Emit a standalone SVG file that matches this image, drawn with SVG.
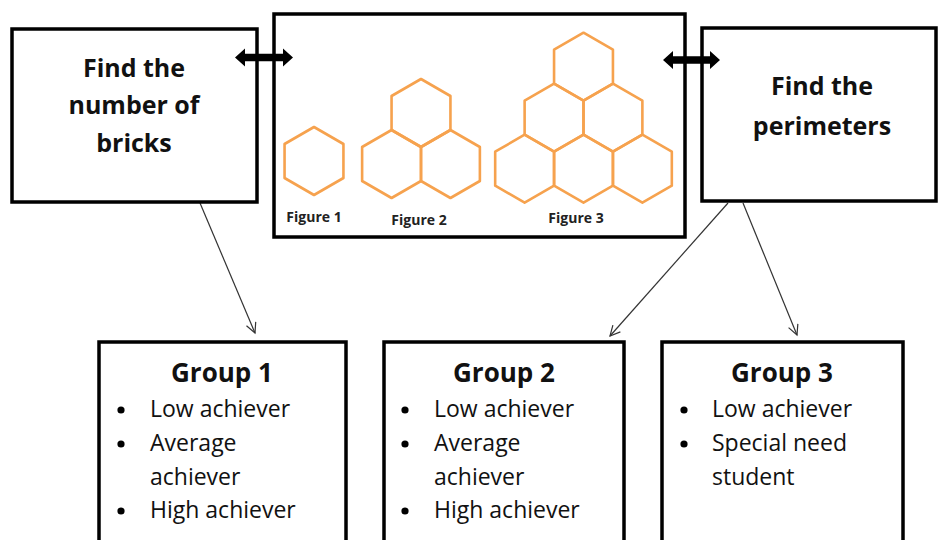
<svg xmlns="http://www.w3.org/2000/svg" width="938" height="540" viewBox="0 0 938 540">
<style>
.box{fill:#fff;stroke:#000;stroke-width:3.5}
.hb{font-family:"Open Sans","Liberation Sans",sans-serif;font-weight:bold;font-size:25px;fill:#111;text-anchor:middle}
.gt{font-family:"Open Sans","Liberation Sans",sans-serif;font-weight:bold;font-size:26px;fill:#111;text-anchor:middle}
.it{font-family:"Open Sans","Liberation Sans",sans-serif;font-size:23px;fill:#111}
.fig{font-family:"Open Sans","Liberation Sans",sans-serif;font-weight:bold;font-size:14px;fill:#222;text-anchor:middle}
.hex{fill:none;stroke:#F6A24E;stroke-width:2.6;stroke-linejoin:round}
.conn{stroke:#333;stroke-width:1.2;fill:none}
.dbl{fill:#000}
</style>
<defs>
<path id="hx" d="M0,-34 L29.44,-17 L29.44,17 L0,34 L-29.44,17 L-29.44,-17 Z"/>
<marker id="ah" markerUnits="userSpaceOnUse" markerWidth="14" markerHeight="14" refX="11" refY="6" orient="auto">
<path d="M1,1 L11,6 L1,11" fill="none" stroke="#333" stroke-width="1.2"/>
</marker>
</defs>
<rect width="938" height="540" fill="#fff"/>

<g id="connectors">
<line class="conn" x1="200" y1="203" x2="255" y2="333" marker-end="url(#ah)"/>
<line class="conn" x1="728" y1="203" x2="610" y2="336" marker-end="url(#ah)"/>
<line class="conn" x1="743" y1="203" x2="797" y2="335" marker-end="url(#ah)"/>
</g>

<g id="node-bricks">
<rect class="box" x="12" y="29" width="245" height="173"/>
<text class="hb" x="134" y="77">Find the</text>
<text class="hb" x="134" y="114">number of</text>
<text class="hb" x="134" y="152">bricks</text>
</g>

<g id="node-figures">
<rect class="box" x="274" y="14" width="411" height="223"/>
<g id="figure1">
<use href="#hx" class="hex" x="314" y="161"/>
<text class="fig" x="314" y="222">Figure 1</text>
</g>
<g id="figure2">
<use href="#hx" class="hex" x="421" y="113"/>
<use href="#hx" class="hex" x="391.56" y="164"/>
<use href="#hx" class="hex" x="450.44" y="164"/>
<text class="fig" x="419" y="225">Figure 2</text>
</g>
<g id="figure3">
<use href="#hx" class="hex" x="583.5" y="66.7"/>
<use href="#hx" class="hex" x="554.06" y="117.7"/>
<use href="#hx" class="hex" x="612.94" y="117.7"/>
<use href="#hx" class="hex" x="524.62" y="168.7"/>
<use href="#hx" class="hex" x="583.5" y="168.7"/>
<use href="#hx" class="hex" x="642.38" y="168.7"/>
<text class="fig" x="576" y="223">Figure 3</text>
</g>
</g>

<g id="node-perimeters">
<rect class="box" x="702" y="28" width="234" height="173"/>
<text class="hb" x="822" y="95">Find the</text>
<text class="hb" x="822" y="135">perimeters</text>
</g>

<g id="double-arrows">
<polygon class="dbl" points="235,57.5 245,48.5 245,53.7 283,53.7 283,48.5 293,57.5 283,66.5 283,61.3 245,61.3 245,66.5"/>
<polygon class="dbl" points="663,60 673,51 673,56.2 710,56.2 710,51 720,60 710,69 710,63.8 673,63.8 673,69"/>
</g>

<g id="node-group1">
<rect class="box" x="99" y="342" width="247" height="210"/>
<text class="gt" x="222" y="382">Group 1</text>
<circle cx="121" cy="410" r="3.6" fill="#000"/>
<circle cx="121" cy="444" r="3.6" fill="#000"/>
<circle cx="121" cy="511" r="3.6" fill="#000"/>
<text class="it" x="150" y="417">Low achiever</text>
<text class="it" x="150" y="451">Average</text>
<text class="it" x="150" y="485">achiever</text>
<text class="it" x="150" y="518">High achiever</text>
</g>

<g id="node-group2">
<rect class="box" x="384" y="342" width="240" height="210"/>
<text class="gt" x="504" y="382">Group 2</text>
<circle cx="405" cy="410" r="3.6" fill="#000"/>
<circle cx="405" cy="444" r="3.6" fill="#000"/>
<circle cx="405" cy="511" r="3.6" fill="#000"/>
<text class="it" x="434" y="417">Low achiever</text>
<text class="it" x="434" y="451">Average</text>
<text class="it" x="434" y="485">achiever</text>
<text class="it" x="434" y="518">High achiever</text>
</g>

<g id="node-group3">
<rect class="box" x="662" y="342" width="241" height="210"/>
<text class="gt" x="782" y="382">Group 3</text>
<circle cx="684" cy="410" r="3.6" fill="#000"/>
<circle cx="684" cy="444" r="3.6" fill="#000"/>
<text class="it" x="712" y="417">Low achiever</text>
<text class="it" x="712" y="451">Special need</text>
<text class="it" x="712" y="485">student</text>
</g>
</svg>
